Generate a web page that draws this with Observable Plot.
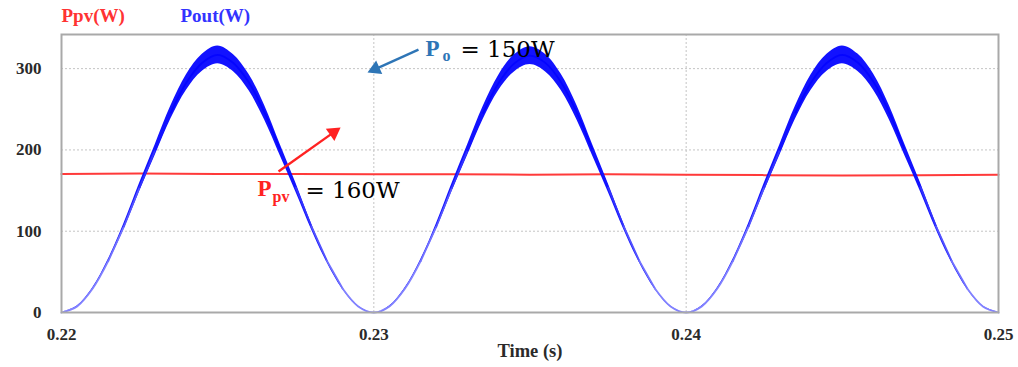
<!DOCTYPE html>
<html><head><meta charset="utf-8">
<script src="https://cdn.jsdelivr.net/npm/d3@7"></script>
<script src="https://cdn.jsdelivr.net/npm/@observablehq/plot@0.6"></script>
<style>body{margin:0;background:#fff}</style>
</head><body><div id="chart"></div>
<script>
// Sample times (s)
const time = [
  0.2200,0.2205,0.2210,0.2215,0.2220,0.2225,0.2230,0.2235,0.2240,0.2245,
  0.2250,0.2255,0.2260,0.2265,0.2270,0.2275,0.2280,0.2285,0.2290,0.2295,
  0.2300,0.2305,0.2310,0.2315,0.2320,0.2325,0.2330,0.2335,0.2340,0.2345,
  0.2350,0.2355,0.2360,0.2365,0.2370,0.2375,0.2380,0.2385,0.2390,0.2395,
  0.2400,0.2405,0.2410,0.2415,0.2420,0.2425,0.2430,0.2435,0.2440,0.2445,
  0.2450,0.2455,0.2460,0.2465,0.2470,0.2475,0.2480,0.2485,0.2490,0.2495,
  0.2500
];
// Pout ripple envelope (W): upper and lower edge of the band
const poutHigh = [
  0,8,30.5,65.5,109.5,159,206.5,254,292.5,317.5,
  328,317.5,293,255,207,159.5,109.5,65.5,30.5,8,
  0,8,30.5,65,109,158.5,206,253.5,292,317,
  327,317.5,293,255,207,159,109.5,65.5,30.5,8,
  0,8,30.5,65.5,109.5,159,206.5,254,292.5,317.5,
  328,318,293.5,255,207,159.5,109.5,65.5,30.5,8,
  0
];
const poutLow = [
  0,7,28.5,61.5,102.5,149,193.5,238,273.5,296.5,
  306,296.5,273,237,193,148.5,102.5,61.5,28.5,7,
  0,7,28.5,61.5,102,148.5,193,237.5,273,296,
  305,296,273,237,193,148.5,102.5,61.5,28.5,7,
  0,7,28.5,61.5,102.5,149,193.5,238,273.5,296.5,
  306,296.5,273.5,237.5,193,149,102.5,61.5,28.5,7,
  0
];
// Ppv (W)
const ppvTime = [0.22,0.2225,0.225,0.2275,0.23,0.2325,0.235,0.2375,0.24,0.2425,0.245,0.2475,0.25];
const ppv = [170.5,171,170.5,170.5,170,170,169.5,170,169.5,169,168.5,169,169.5];

const xTicks = [0.22,0.23,0.24,0.25];
const yTicks = [0,100,200,300];
const xGrid = [0.23,0.24];
const yGrid = [100,200,300];
const seriesLabels = ["Ppv(W)","Pout(W)"];
const xLabel = "Time (s)";

const pout = time.map((t,i)=>({t, hi:poutHigh[i], lo:poutLow[i], mid:(poutHigh[i]+poutLow[i])/2}));
const ppvData = ppvTime.map((t,i)=>({t, v:ppv[i]}));

const serif = "'Liberation Serif','Times New Roman',serif";
const mathFont = "'DejaVu Serif',serif";
const shade = d3.interpolateRgb("#8282ff", "#0505ff");

const blueArrow = [{x1:0.23143,y1:323.5,x2:0.230047,y2:299.5,rot:245.7}];
const redArrow = [{x1:0.226948,y1:173.5,x2:0.228712,y2:221.6,rot:54.6}];

const chart = Plot.plot({
  width:1018, height:367,
  marginLeft:61, marginRight:20, marginTop:34, marginBottom:55,
  style:{fontFamily:serif, fontWeight:"bold", fontSize:"17px", color:"#2a2a2a", background:"#fff", overflow:"visible"},
  x:{domain:[0.22,0.25]},
  y:{domain:[0,342]},
  marks:[
    Plot.gridY(yGrid, {stroke:"#c4c4c4", strokeOpacity:1, strokeDasharray:"2,2"}),
    Plot.gridX(xGrid, {stroke:"#c4c4c4", strokeOpacity:1, strokeDasharray:"2,2"}),
    Plot.axisY(yTicks, {tickSize:0, tickPadding:20, label:null}),
    Plot.axisX(xTicks, {tickSize:0, tickPadding:15, tickFormat:d3.format(".2f"), label:null}),
    Plot.line(ppvData, {x:"t", y:"v", stroke:"#ff3a3a", strokeWidth:2}),
    Plot.areaY(pout, {x:"t", y1:"lo", y2:"hi", fill:"#0505ff", fillOpacity:0.95, curve:"catmull-rom"}),
    Plot.line(pout, {x:"t", y:"mid", z:null, stroke:d => shade(Math.min(1, Math.max(0, (d.mid - 40) / 180))), strokeWidth:1.8, curve:"catmull-rom"}),
    Plot.frame({stroke:"#a9a9a9", strokeWidth:2}),
    // legend labels
    Plot.text([seriesLabels[0]], {text:d=>d, frameAnchor:"top-left", dy:-13, lineAnchor:"bottom", textAnchor:"start", fill:"#ff3333", fontSize:19}),
    Plot.text([seriesLabels[1]], {text:d=>d, frameAnchor:"top-left", dx:119, dy:-13, lineAnchor:"bottom", textAnchor:"start", fill:"#3333ff", fontSize:19}),
    Plot.text([xLabel], {text:d=>d, frameAnchor:"bottom", dy:44, lineAnchor:"bottom", fontSize:18.5}),
    // annotations
    Plot.link(blueArrow, {x1:"x1",y1:"y1",x2:"x2",y2:"y2", stroke:"#2e75b6", strokeWidth:2.4}),
    Plot.dot(blueArrow, {x:"x2", y:"y2", symbol:"triangle", r:5.5, rotate:"rot", fill:"#2e75b6"}),
    Plot.link(redArrow, {x1:"x1",y1:"y1",x2:"x2",y2:"y2", stroke:"#ff2222", strokeWidth:2.4}),
    Plot.dot(redArrow, {x:"x2", y:"y2", symbol:"triangle", r:5.5, rotate:"rot", fill:"#ff2222"}),
    Plot.text(["P"], {text:d=>d, x:0.231654, y:316.1, textAnchor:"start", lineAnchor:"bottom", fill:"#2e75b6", fontSize:23}),
    Plot.text(["o"], {text:d=>d, x:0.231654, y:316.1, dx:17, dy:5, textAnchor:"start", lineAnchor:"bottom", fill:"#2e75b6", fontSize:16}),
    Plot.text(["= 150W"], {text:d=>d, x:0.231654, y:316.1, dx:35, dy:1, textAnchor:"start", lineAnchor:"bottom", fill:"#000", fontSize:23, fontFamily:mathFont, fontWeight:"normal"}),
    Plot.text(["P"], {text:d=>d, x:0.226275, y:143.9, textAnchor:"start", lineAnchor:"bottom", fill:"#ff2222", fontSize:23}),
    Plot.text(["pv"], {text:d=>d, x:0.226275, y:143.9, dx:15, dy:6, textAnchor:"start", lineAnchor:"bottom", fill:"#ff2222", fontSize:16}),
    Plot.text(["= 160W"], {text:d=>d, x:0.226275, y:143.9, dx:48, dy:2, textAnchor:"start", lineAnchor:"bottom", fill:"#000", fontSize:23, fontFamily:mathFont, fontWeight:"normal"})
  ]
});
document.getElementById("chart").appendChild(chart);
</script>
</body></html>
